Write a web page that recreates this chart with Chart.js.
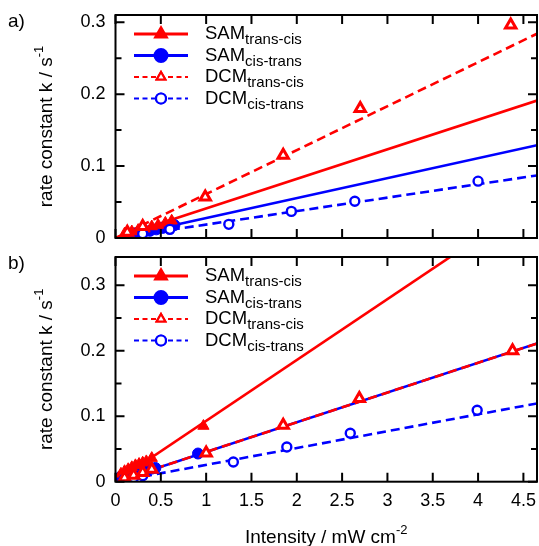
<!DOCTYPE html>
<html>
<head>
<meta charset="utf-8">
<script src="https://cdn.jsdelivr.net/npm/chart.js@4"></script>
<style>
  html, body { margin: 0; padding: 0; background: #fff; }
  #caixa { position: relative; width: 539px; height: 546px; }
  #grafA { position: absolute; left: 0; top: 0; }
  #grafB { position: absolute; left: 0; top: 250px; }
</style>
</head>
<body>
<div id="caixa">
  <canvas id="grafA" width="539" height="250"></canvas>
  <canvas id="grafB" width="539" height="296"></canvas>
</div>
<script>
// ticks
var xTicks = [0, 0.5, 1, 1.5, 2, 2.5, 3, 3.5, 4, 4.5]
var xTickLabels = ["0", "0.5", "1", "1.5", "2", "2.5", "3", "3.5", "4", "4.5"]
var yTicks = [0, 0.1, 0.2, 0.3]
var yTickLabels = ["0", "0.1", "0.2", "0.3"]
var yMinorTicks = [0.05, 0.15, 0.25]

var legendNames = ["SAM", "SAM", "DCM", "DCM"]
var legendSubs = ["trans-cis", "cis-trans", "trans-cis", "cis-trans"]

// panel a) data
var a_samTC = [[0.1, 0.006], [0.18, 0.009], [0.25, 0.011], [0.32, 0.013], [0.4, 0.016], [0.47, 0.018], [0.55, 0.021], [0.62, 0.024]]
var a_samCT = [[0.2, 0.006], [0.3, 0.008], [0.38, 0.01], [0.45, 0.012], [0.52, 0.014], [0.58, 0.016], [0.65, 0.018]]
var a_dcmTC = [[0.13, 0.008], [0.3, 0.016], [0.99, 0.057], [1.85, 0.115], [2.7, 0.18], [4.36, 0.296]]
var a_dcmCT = [[0.3, 0.006], [0.6, 0.012], [1.25, 0.019], [1.94, 0.037], [2.64, 0.051], [4.0, 0.079]]
var a_fitSamTC = [[0, 0], [4.65, 0.191]]
var a_fitSamCT = [[0, 0], [4.65, 0.129]]
var a_fitDcmTC = [[0, 0], [4.65, 0.284]]
var a_fitDcmCT = [[0, 0], [4.65, 0.087]]

// panel b) data
var b_samTC = [[0.06, 0.012], [0.1, 0.016], [0.14, 0.019], [0.18, 0.022], [0.22, 0.025], [0.26, 0.027], [0.3, 0.029], [0.34, 0.031], [0.4, 0.036], [0.97, 0.085]]
var b_samCT = [[0.06, 0.008], [0.1, 0.01], [0.15, 0.012], [0.2, 0.014], [0.25, 0.015], [0.3, 0.017], [0.35, 0.018], [0.4, 0.02], [0.44, 0.021], [0.91, 0.043]]
var b_dcmTC = [[0.1, 0.006], [0.2, 0.01], [0.3, 0.014], [0.4, 0.019], [1.0, 0.044], [1.85, 0.086], [2.69, 0.127], [4.38, 0.2]]
var b_dcmCT = [[0.1, 0.004], [0.2, 0.006], [0.3, 0.009], [1.3, 0.03], [1.89, 0.053], [2.59, 0.074], [3.99, 0.109]]
var b_fitSamTC = [[0, 0], [4.65, 0.432]]
var b_fitSamCT = [[0, 0], [4.65, 0.211]]
var b_fitDcmTC = [[0, 0], [4.65, 0.211]]
var b_fitDcmCT = [[0, 0], [4.65, 0.1195]]

var fonte = "Liberation Sans, Arial, sans-serif"
var vermelho = "#ff0000"
var azul = "#0000ff"

function pontos(arr){
    return arr.map(p => ({x: p[0], y: p[1]}))
}

function linha(arr, cor, tracejado){
    return {
        type: "line",
        data: pontos(arr),
        borderColor: cor,
        borderWidth: 2.6,
        borderDash: tracejado ? [9, 5] : [],
        pointRadius: 0,
        fill: false,
        tension: 0
    }
}

function marcas(arr, cor, estilo, cheio, raio){
    return {
        type: "scatter",
        data: pontos(arr),
        showLine: false,
        pointStyle: estilo,
        pointRadius: raio,
        pointBackgroundColor: cheio ? cor : "#ffffff",
        pointBorderColor: cor,
        pointBorderWidth: cheio ? 1 : (estilo == "triangle" ? 3 : 2.4)
    }
}

// frame, inner ticks, legend, labels
function moldura(letra, titulo_x){
    return {
        id: "moldura",
        afterDraw(chart){
            var ctx = chart.ctx
            var area = chart.chartArea
            var sx = chart.scales.x
            var sy = chart.scales.y
            ctx.save()
            ctx.strokeStyle = "#000"
            ctx.lineWidth = 2
            ctx.strokeRect(area.left, area.top, area.right - area.left, area.bottom - area.top)
            ctx.beginPath()
            xTicks.forEach(v => {
                var px = sx.getPixelForValue(v)
                ctx.moveTo(px, area.bottom); ctx.lineTo(px, area.bottom - 9)
                ctx.moveTo(px, area.top); ctx.lineTo(px, area.top + 9)
            })
            yTicks.forEach(v => {
                var py = sy.getPixelForValue(v)
                ctx.moveTo(area.left, py); ctx.lineTo(area.left + 9, py)
                ctx.moveTo(area.right, py); ctx.lineTo(area.right - 9, py)
            })
            yMinorTicks.forEach(v => {
                var py = sy.getPixelForValue(v)
                ctx.moveTo(area.left, py); ctx.lineTo(area.left + 6, py)
                ctx.moveTo(area.right, py); ctx.lineTo(area.right - 6, py)
            })
            ctx.stroke()

            // legend
            var cores = [vermelho, azul, vermelho, azul]
            var estilos = ["triangle", "circle", "triangle", "circle"]
            var dy = [19, 40.5, 62, 83.5]
            for (var i = 0; i < 4; i++) {
                var y = area.top + dy[i]
                ctx.beginPath()
                ctx.strokeStyle = cores[i]
                if (i < 2) { ctx.lineWidth = 3; ctx.setLineDash([]) }
                else { ctx.lineWidth = 2; ctx.setLineDash([5, 3.5]) }
                ctx.moveTo(134, y); ctx.lineTo(188, y)
                ctx.stroke()
                ctx.setLineDash([])
                Chart.helpers.drawPoint(ctx, {
                    pointStyle: estilos[i],
                    radius: i < 2 ? 6 : 5,
                    borderWidth: i < 2 ? 1 : 2.2
                }, 161, y)
                ctx.fillStyle = i < 2 ? cores[i] : "#fff"
                ctx.strokeStyle = cores[i]
                ctx.lineWidth = i < 2 ? 1 : 2.2
                ctx.fill()
                ctx.stroke()

                ctx.fillStyle = "#000"
                ctx.textBaseline = "middle"
                ctx.textAlign = "left"
                ctx.font = "18.5px " + fonte
                ctx.fillText(legendNames[i], 205, y)
                var w = ctx.measureText(legendNames[i]).width
                ctx.font = "15px " + fonte
                ctx.fillText(legendSubs[i], 205 + w, y + 6)
            }

            // panel letter
            ctx.fillStyle = "#000"
            ctx.font = "19px " + fonte
            ctx.textAlign = "left"
            ctx.textBaseline = "middle"
            ctx.fillText(letra, 8, area.top + 7)

            // y title
            ctx.save()
            var cy = (area.top + area.bottom) / 2
            ctx.translate(52, cy)
            ctx.rotate(-Math.PI / 2)
            ctx.font = "19px " + fonte
            var t1 = "rate constant k / s"
            var w1 = ctx.measureText(t1).width
            ctx.font = "13px " + fonte
            var w2 = ctx.measureText("-1").width
            var x0 = -(w1 + w2) / 2
            ctx.font = "19px " + fonte
            ctx.textBaseline = "alphabetic"
            ctx.fillText(t1, x0, 0)
            ctx.font = "13px " + fonte
            ctx.fillText("-1", x0 + w1, -9)
            ctx.restore()

            // x title
            if (titulo_x) {
                ctx.font = "19px " + fonte
                var t3 = "Intensity / mW cm"
                var w3 = ctx.measureText(t3).width
                ctx.font = "13px " + fonte
                var w4 = ctx.measureText("-2").width
                var cx = (area.left + area.right) / 2 - (w3 + w4) / 2
                ctx.textBaseline = "alphabetic"
                ctx.font = "19px " + fonte
                ctx.fillText(t3, cx, area.bottom + 61)
                ctx.font = "13px " + fonte
                ctx.fillText("-2", cx + w3, area.bottom + 52)
            }
            ctx.restore()
        }
    }
}

function opcoes(ymax, mostra_x, padTop, padBottom, alturaX){
    return {
        responsive: false,
        animation: false,
        layout: { autoPadding: false, padding: { top: padTop, right: 2, bottom: padBottom, left: 0 } },
        plugins: { legend: { display: false }, tooltip: { enabled: false } },
        scales: {
            x: {
                type: "linear",
                min: 0,
                max: 4.65,
                grid: { display: false, drawTicks: true, tickLength: 9 },
                border: { display: false },
                afterBuildTicks: s => { s.ticks = xTicks.map(v => ({ value: v })) },
                afterFit: s => { s.height = alturaX },
                ticks: {
                    display: mostra_x,
                    padding: 0,
                    color: "#000",
                    font: { family: fonte, size: 18 },
                    maxRotation: 0,
                    autoSkip: false,
                    callback: (v, i) => xTickLabels[xTicks.indexOf(v)]
                }
            },
            y: {
                type: "linear",
                min: 0,
                max: ymax,
                grid: { display: false, drawTicks: true, tickLength: 10 },
                border: { display: false },
                afterBuildTicks: s => { s.ticks = yTicks.map(v => ({ value: v })) },
                afterFit: s => { s.width = 115.5 },
                ticks: {
                    padding: 0,
                    color: "#000",
                    font: { family: fonte, size: 18, lineHeight: 0.7 },
                    autoSkip: false,
                    callback: (v, i) => yTickLabels[yTicks.indexOf(v)]
                }
            }
        }
    }
}

function grafico_a(){
    new Chart(document.getElementById("grafA"), {
        type: "scatter",
        data: {
            datasets: [
                marcas(a_dcmTC, vermelho, "triangle", false, 6),
                marcas(a_dcmCT, azul, "circle", false, 4.5),
                marcas(a_samTC, vermelho, "triangle", true, 6.5),
                marcas(a_samCT, azul, "circle", true, 5.5),
                linha(a_fitDcmTC, vermelho, true),
                linha(a_fitDcmCT, azul, true),
                linha(a_fitSamTC, vermelho, false),
                linha(a_fitSamCT, azul, false)
            ]
        },
        options: opcoes(0.31, false, 15, 12, 0),
        plugins: [moldura("a)", false)]
    })
}

function grafico_b(){
    new Chart(document.getElementById("grafB"), {
        type: "scatter",
        data: {
            datasets: [
                marcas(b_dcmTC, vermelho, "triangle", false, 6),
                marcas(b_dcmCT, azul, "circle", false, 4.5),
                marcas(b_samTC, vermelho, "triangle", true, 6.5),
                marcas(b_samCT, azul, "circle", true, 5.5),
                linha(b_fitDcmTC, vermelho, true),
                linha(b_fitDcmCT, azul, true),
                linha(b_fitSamTC, vermelho, false),
                linha(b_fitSamCT, azul, false)
            ]
        },
        options: opcoes(0.343, true, 7, 0, 64.3),
        plugins: [moldura("b)", true)]
    })
}

grafico_a()
grafico_b()
</script>
</body>
</html>
